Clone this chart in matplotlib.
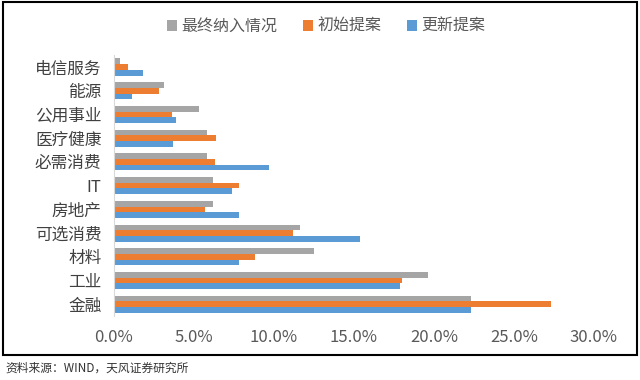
import numpy as np
import matplotlib.pyplot as plt
from matplotlib.patches import Rectangle
from matplotlib.ticker import PercentFormatter

plt.rcParams['font.family'] = ['Noto Sans CJK SC', 'DejaVu Sans']

cats = ['金融', '工业', '材料', '可选消费', '房地产', 'IT', '必需消费',
        '医疗健康', '公用事业', '能源', '电信服务']
final = [22.3, 19.6, 12.5, 11.6, 6.2, 6.2, 5.8, 5.8, 5.3, 3.1, 0.4]
initial = [27.3, 18.0, 8.8, 11.2, 5.7, 7.8, 6.3, 6.4, 3.6, 2.8, 0.9]
updated = [22.3, 17.9, 7.8, 15.4, 7.8, 7.4, 9.7, 3.7, 3.9, 1.1, 1.8]

fig = plt.figure(figsize=(6.4, 3.8), dpi=100)
ax = fig.add_axes([0.178, 0.168, 0.75, 0.687])

y = np.arange(len(cats))
h = 0.24
ax.barh(y + h, np.array(final) / 100, height=h, color='#A5A5A5', label='最终纳入情况')
ax.barh(y, np.array(initial) / 100, height=h, color='#ED7D31', label='初始提案')
ax.barh(y - h, np.array(updated) / 100, height=h, color='#5B9BD5', label='更新提案')

ax.set_xlim(0, 0.30)
ax.set_ylim(-0.5, len(cats) - 0.5)
ax.set_xticks(np.arange(0, 0.31, 0.05))
ax.xaxis.set_major_formatter(PercentFormatter(1.0, decimals=1))
ax.set_yticks(y)
ax.set_yticklabels(cats)
ax.tick_params(axis='x', length=0, labelsize=12, colors='#595959', pad=9)
ax.tick_params(axis='y', length=0, labelsize=12, colors='#404040', pad=9)
for s in ['top', 'right', 'bottom']:
    ax.spines[s].set_visible(False)
ax.spines['left'].set_color('#D9D9D9')

ax.legend(loc='center', bbox_to_anchor=(0.51, 0.93), bbox_transform=fig.transFigure,
          ncol=3, frameon=False, fontsize=11.5, handlelength=0.6, handleheight=0.6,
          handletextpad=0.3, columnspacing=1.6, labelcolor='#595959')

fig.patches.append(Rectangle((0.004, 0.066), 0.992, 0.928, transform=fig.transFigure,
                             fill=False, edgecolor='black', linewidth=1.5))
fig.text(0.008, 0.03, '资料来源：WIND，天风证券研究所', fontsize=8.5, color='#333333', va='center')

fig.savefig('out.png', dpi=100)
